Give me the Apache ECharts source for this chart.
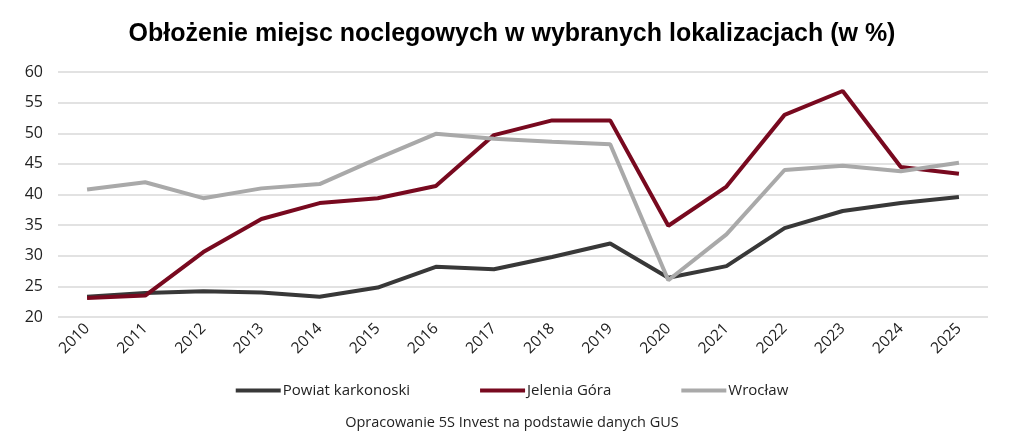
<!DOCTYPE html>
<html>
<head>
<meta charset="utf-8">
<script src="https://cdn.jsdelivr.net/npm/echarts@6/dist/echarts.min.js"></script>
<style>
  html, body { margin: 0; padding: 0; background: #fff; }
  #chart { width: 1024px; height: 434px; }
</style>
</head>
<body>
<div id="chart"></div>
<script>
// lata
const years = ['2010', '2011', '2012', '2013', '2014', '2015', '2016', '2017',
  '2018', '2019', '2020', '2021', '2022', '2023', '2024', '2025']

// obłożenie w %
const powiatKarkonoski = [23.3, 23.9, 24.2, 24.0, 23.3, 24.8, 28.2, 27.8,
  29.8, 32.0, 26.4, 28.3, 34.5, 37.3, 38.6, 39.6]
const jeleniaGora = [23.1, 23.5, 30.6, 36.0, 38.6, 39.4, 41.4, 49.7,
  52.1, 52.1, 34.9, 41.3, 53.0, 56.9, 44.5, 43.4]
const wroclaw = [40.8, 42.0, 39.4, 41.0, 41.7, 45.9, 49.9, 49.1,
  48.6, 48.2, 26.0, 33.5, 44.0, 44.7, 43.8, 45.2]

const FONT = '"Open Sans", "Noto Sans", sans-serif'

const chart = echarts.init(document.getElementById('chart'))

function line (name, data, color) {
  return {
    name: name,
    type: 'line',
    data: data,
    symbol: 'none',
    lineStyle: { color: color, width: 4 },
    itemStyle: { color: color },
    z: 3
  }
}

chart.setOption({
  backgroundColor: '#fff',
  animation: false,
  title: [
    {
      text: 'Obłożenie miejsc noclegowych w wybranych lokalizacjach (w %)',
      left: 'center',
      top: 17,
      textStyle: { fontFamily: '"Liberation Sans", Arial, sans-serif', fontSize: 25, fontWeight: 'bold', color: '#000' }
    },
    {
      text: 'Opracowanie 5S Invest na podstawie danych GUS',
      left: 'center',
      top: 410,
      textStyle: { fontFamily: FONT, fontSize: 14.5, fontWeight: 'normal', color: '#222' }
    }
  ],
  legend: {
    data: ['Powiat karkonoski', 'Jelenia Góra', 'Wrocław'],
    top: 378,
    left: 'center',
    icon: 'rect',
    itemWidth: 45,
    itemHeight: 4,
    itemGap: 70,
    textStyle: { fontFamily: FONT, fontSize: 15, color: '#222', padding: [0, 0, 0, -3] }
  },
  grid: { left: 58, right: 36, top: 72, bottom: 117 },
  xAxis: {
    type: 'category',
    data: years,
    boundaryGap: true,
    axisLine: { show: false },
    axisTick: { show: false },
    axisLabel: {
      rotate: 45,
      margin: 9,
      fontFamily: FONT,
      fontSize: 15.5,
      color: '#222'
    }
  },
  yAxis: {
    type: 'value',
    min: 20,
    max: 60,
    interval: 5,
    axisLine: { show: false },
    axisTick: { show: false },
    axisLabel: { fontFamily: FONT, fontSize: 16, color: '#222', margin: 15 },
    splitLine: { lineStyle: { color: '#d9d9d9', width: 1.5 } }
  },
  series: [
    line('Powiat karkonoski', powiatKarkonoski, '#383838'),
    line('Jelenia Góra', jeleniaGora, '#78091f'),
    line('Wrocław', wroclaw, '#a9a9a9')
  ]
})
</script>
</body>
</html>
